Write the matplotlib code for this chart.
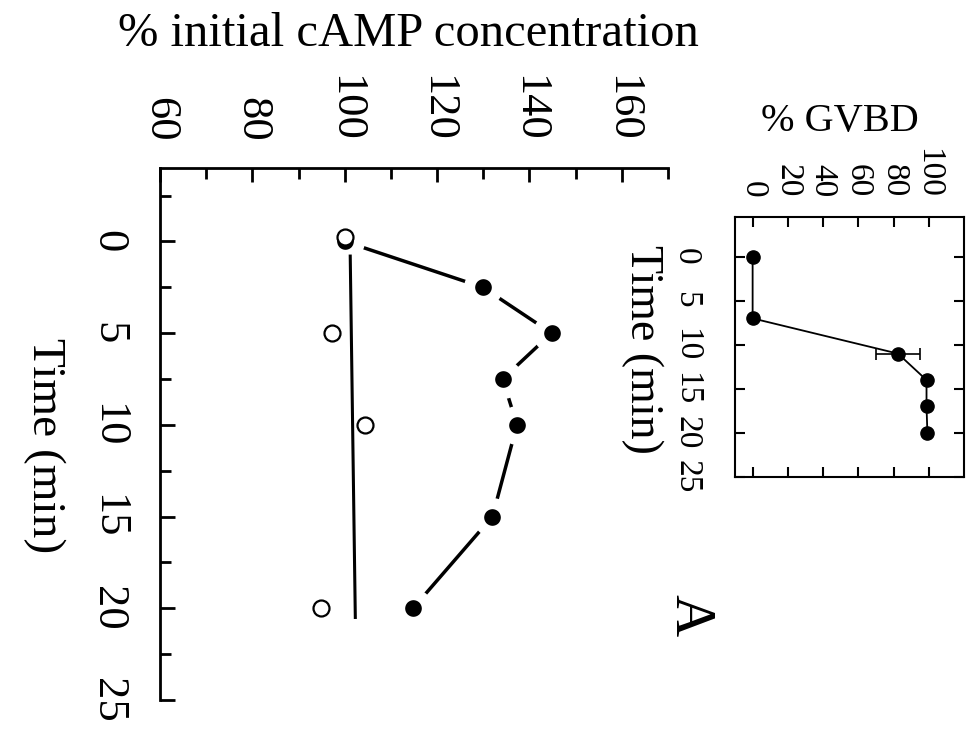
import matplotlib.pyplot as plt
import numpy as np

plt.rcParams['font.family'] = ['Liberation Serif', 'DejaVu Serif']

# cAMP level (% of initial) against time; filled = stimulated, open = control
t_stim = [0, 2.5, 5, 7.5, 10, 15, 20]
camp_stim = [100, 129.9, 144.8, 134.2, 137.3, 132.0, 114.8]
t_ctrl = [-0.25, 5, 10, 20]
camp_ctrl = [100.1, 97.3, 104.5, 94.9]
t_fit = [0.8, 20.5]
camp_fit = [101.2, 102.3]

# germinal vesicle breakdown over the same period
t_gvbd = [0, 7, 11, 14, 17, 20]
gvbd = [0, 0, 82.5, 98.7, 98.7, 99.2]
gvbd_err = [0, 0, 12.4, 0, 0, 0]

camp_ticks = [60, 80, 100, 120, 140, 160]
time_ticks = [0, 5, 10, 15, 20, 25]
gvbd_ticks = [0, 20, 40, 60, 80, 100]

# the whole panel is laid out turned a quarter turn clockwise:
# time runs down the page, values run left to right
fig = plt.figure(figsize=(9.73, 7.29), dpi=100)

ax = fig.add_axes([0.1644, 0.0398, 0.5221, 0.7297])
ax.plot(camp_stim, t_stim, color='k', lw=2.5, zorder=2)
# white ring around the dots leaves the gaps in the connecting line
ax.plot(camp_stim, t_stim, 'o', ms=20, mfc='k', mec='white', mew=8, zorder=3)
ax.plot(camp_fit, t_fit, color='k', lw=2.2, zorder=4)
ax.plot(camp_ctrl, t_ctrl, 'o', ms=11.5, mfc='white', mec='k', mew=1.6, zorder=5)

ax.set_xlim(60, 170)
ax.set_ylim(25, -4)
ax.spines['right'].set_visible(False)
ax.spines['bottom'].set_visible(False)
ax.spines['top'].set_linewidth(2)
ax.spines['left'].set_linewidth(2)

ax.set_xticks(camp_ticks)
ax.set_xticks(np.arange(70, 171, 20), minor=True)
ax.set_yticks(time_ticks)
ax.set_yticks(np.arange(-2.5, 25, 5), minor=True)
ax.tick_params(axis='x', which='both', top=True, bottom=False, labeltop=True,
               labelbottom=False, direction='in', width=2)
ax.tick_params(axis='x', which='major', length=10, labelsize=32,
               labelrotation=-90, pad=19)
ax.tick_params(axis='x', which='minor', length=8)
ax.tick_params(axis='y', which='both', direction='in', width=2)
ax.tick_params(axis='y', which='major', length=11, labelsize=32,
               labelrotation=-90, pad=23)
ax.tick_params(axis='y', which='minor', length=8)
for lab in ax.get_yticklabels():
    lab.set_va('center')

ax.xaxis.set_label_position('top')
ax.set_xlabel('% initial cAMP concentration', fontsize=35)
ax.xaxis.set_label_coords(0.49, 1.23)
ax.set_ylabel('Time (min)', fontsize=34, rotation=-90)
ax.yaxis.label.set_va('center')
ax.yaxis.set_label_coords(-0.228, 0.479)

fig.text(689 / 973, 1 - 615 / 729, 'A', rotation=-90, fontsize=42,
         ha='center', va='center')

# inset: % GVBD
ax2 = fig.add_axes([0.7554, 0.3457, 0.2354, 0.3566])
ax2.plot(gvbd, t_gvbd, color='k', lw=1.3, marker='o', ms=9.5)
err = np.array(gvbd_err)
has_err = err > 0
ax2.errorbar(np.array(gvbd)[has_err], np.array(t_gvbd)[has_err],
             xerr=err[has_err], fmt='none', ecolor='k', elinewidth=1.2,
             capsize=4, capthick=1.2)
ax2.set_xlim(-10, 120)
ax2.set_ylim(25, -4.5)
for sp in ax2.spines.values():
    sp.set_linewidth(1.5)
ax2.set_xticks(gvbd_ticks)
ax2.set_yticks(time_ticks)
ax2.tick_params(direction='in', top=True, bottom=True, left=True, right=True,
                labeltop=True, labelbottom=False, length=7.5, width=1.5)
ax2.tick_params(axis='x', labelsize=24, labelrotation=-90, pad=14)
ax2.tick_params(axis='y', labelsize=24, labelrotation=-90, pad=24)
for lab in ax2.get_yticklabels():
    lab.set_va('center')

ax2.xaxis.set_label_position('top')
ax2.set_xlabel('% GVBD', fontsize=29)
ax2.xaxis.set_label_coords(0.459, 1.33)
ax2.set_ylabel('Time (min)', fontsize=33, rotation=-90)
ax2.yaxis.label.set_va('center')
ax2.yaxis.set_label_coords(-0.405, 0.49)

fig.savefig('out.png', dpi=100)
